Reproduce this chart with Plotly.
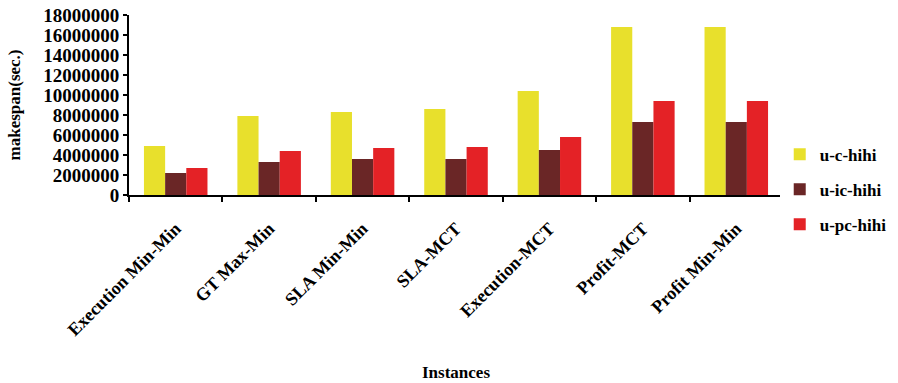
import plotly.graph_objects as go

# Scheduling heuristics compared on makespan
instances = ["Execution Min-Min", "GT Max-Min", "SLA Min-Min", "SLA-MCT",
             "Execution-MCT", "Profit-MCT", "Profit Min-Min"]
u_c_hihi = [4900000, 7900000, 8300000, 8600000, 10400000, 16800000, 16800000]
u_ic_hihi = [2200000, 3300000, 3600000, 3600000, 4500000, 7300000, 7300000]
u_pc_hihi = [2700000, 4400000, 4700000, 4800000, 5800000, 9400000, 9400000]

series = [
    ("u-c-hihi", u_c_hihi, "#E8E02C"),
    ("u-ic-hihi", u_ic_hihi, "#6A2626"),
    ("u-pc-hihi", u_pc_hihi, "#E42226"),
]

font_family = "Liberation Serif"

fig = go.Figure()
for name, vals, color in series:
    fig.add_trace(go.Bar(
        x=instances, y=vals, name=name, legendgroup=name,
        marker=dict(color=color, line=dict(width=0)),
    ))

y_ticks = list(range(0, 18000001, 2000000))

fig.update_layout(
    width=898, height=383,
    margin=dict(l=129, r=115, t=15, b=188, autoexpand=False),
    paper_bgcolor="white", plot_bgcolor="white",
    barmode="group", bargap=0.32, bargroupgap=0,
    font=dict(family=font_family, color="black"),
    showlegend=True,
    legend=dict(
        x=0.995, y=0.03, xanchor="left", yanchor="middle",
        font=dict(family=font_family, size=17, color="black", weight="bold"),
        tracegroupgap=10, itemwidth=30,
    ),
    xaxis=dict(
        automargin=False,
        showline=True, linecolor="black", linewidth=2,
        ticks="outside", tickson="boundaries", ticklen=5, tickwidth=2, tickcolor="black",
        tickangle=-45, ticklabelstandoff=14,
        tickfont=dict(family=font_family, size=18, color="black", weight="bold"),
        title=dict(text="Instances", standoff=27,
                   font=dict(family=font_family, size=17, color="black", weight="bold")),
        showgrid=False,
    ),
    yaxis=dict(
        automargin=False,
        range=[0, 18000000],
        tickmode="array", tickvals=y_ticks, ticktext=[str(v) for v in y_ticks],
        showline=True, linecolor="black", linewidth=2,
        ticks="outside", ticklen=4, tickwidth=2, tickcolor="black",
        tickfont=dict(family=font_family, size=19, color="black", weight="bold"),
        title=dict(text="makespan(sec.)", standoff=18,
                   font=dict(family=font_family, size=17, color="black", weight="bold")),
        showgrid=False, zeroline=False,
    ),
)

fig.write_html("out.html")
